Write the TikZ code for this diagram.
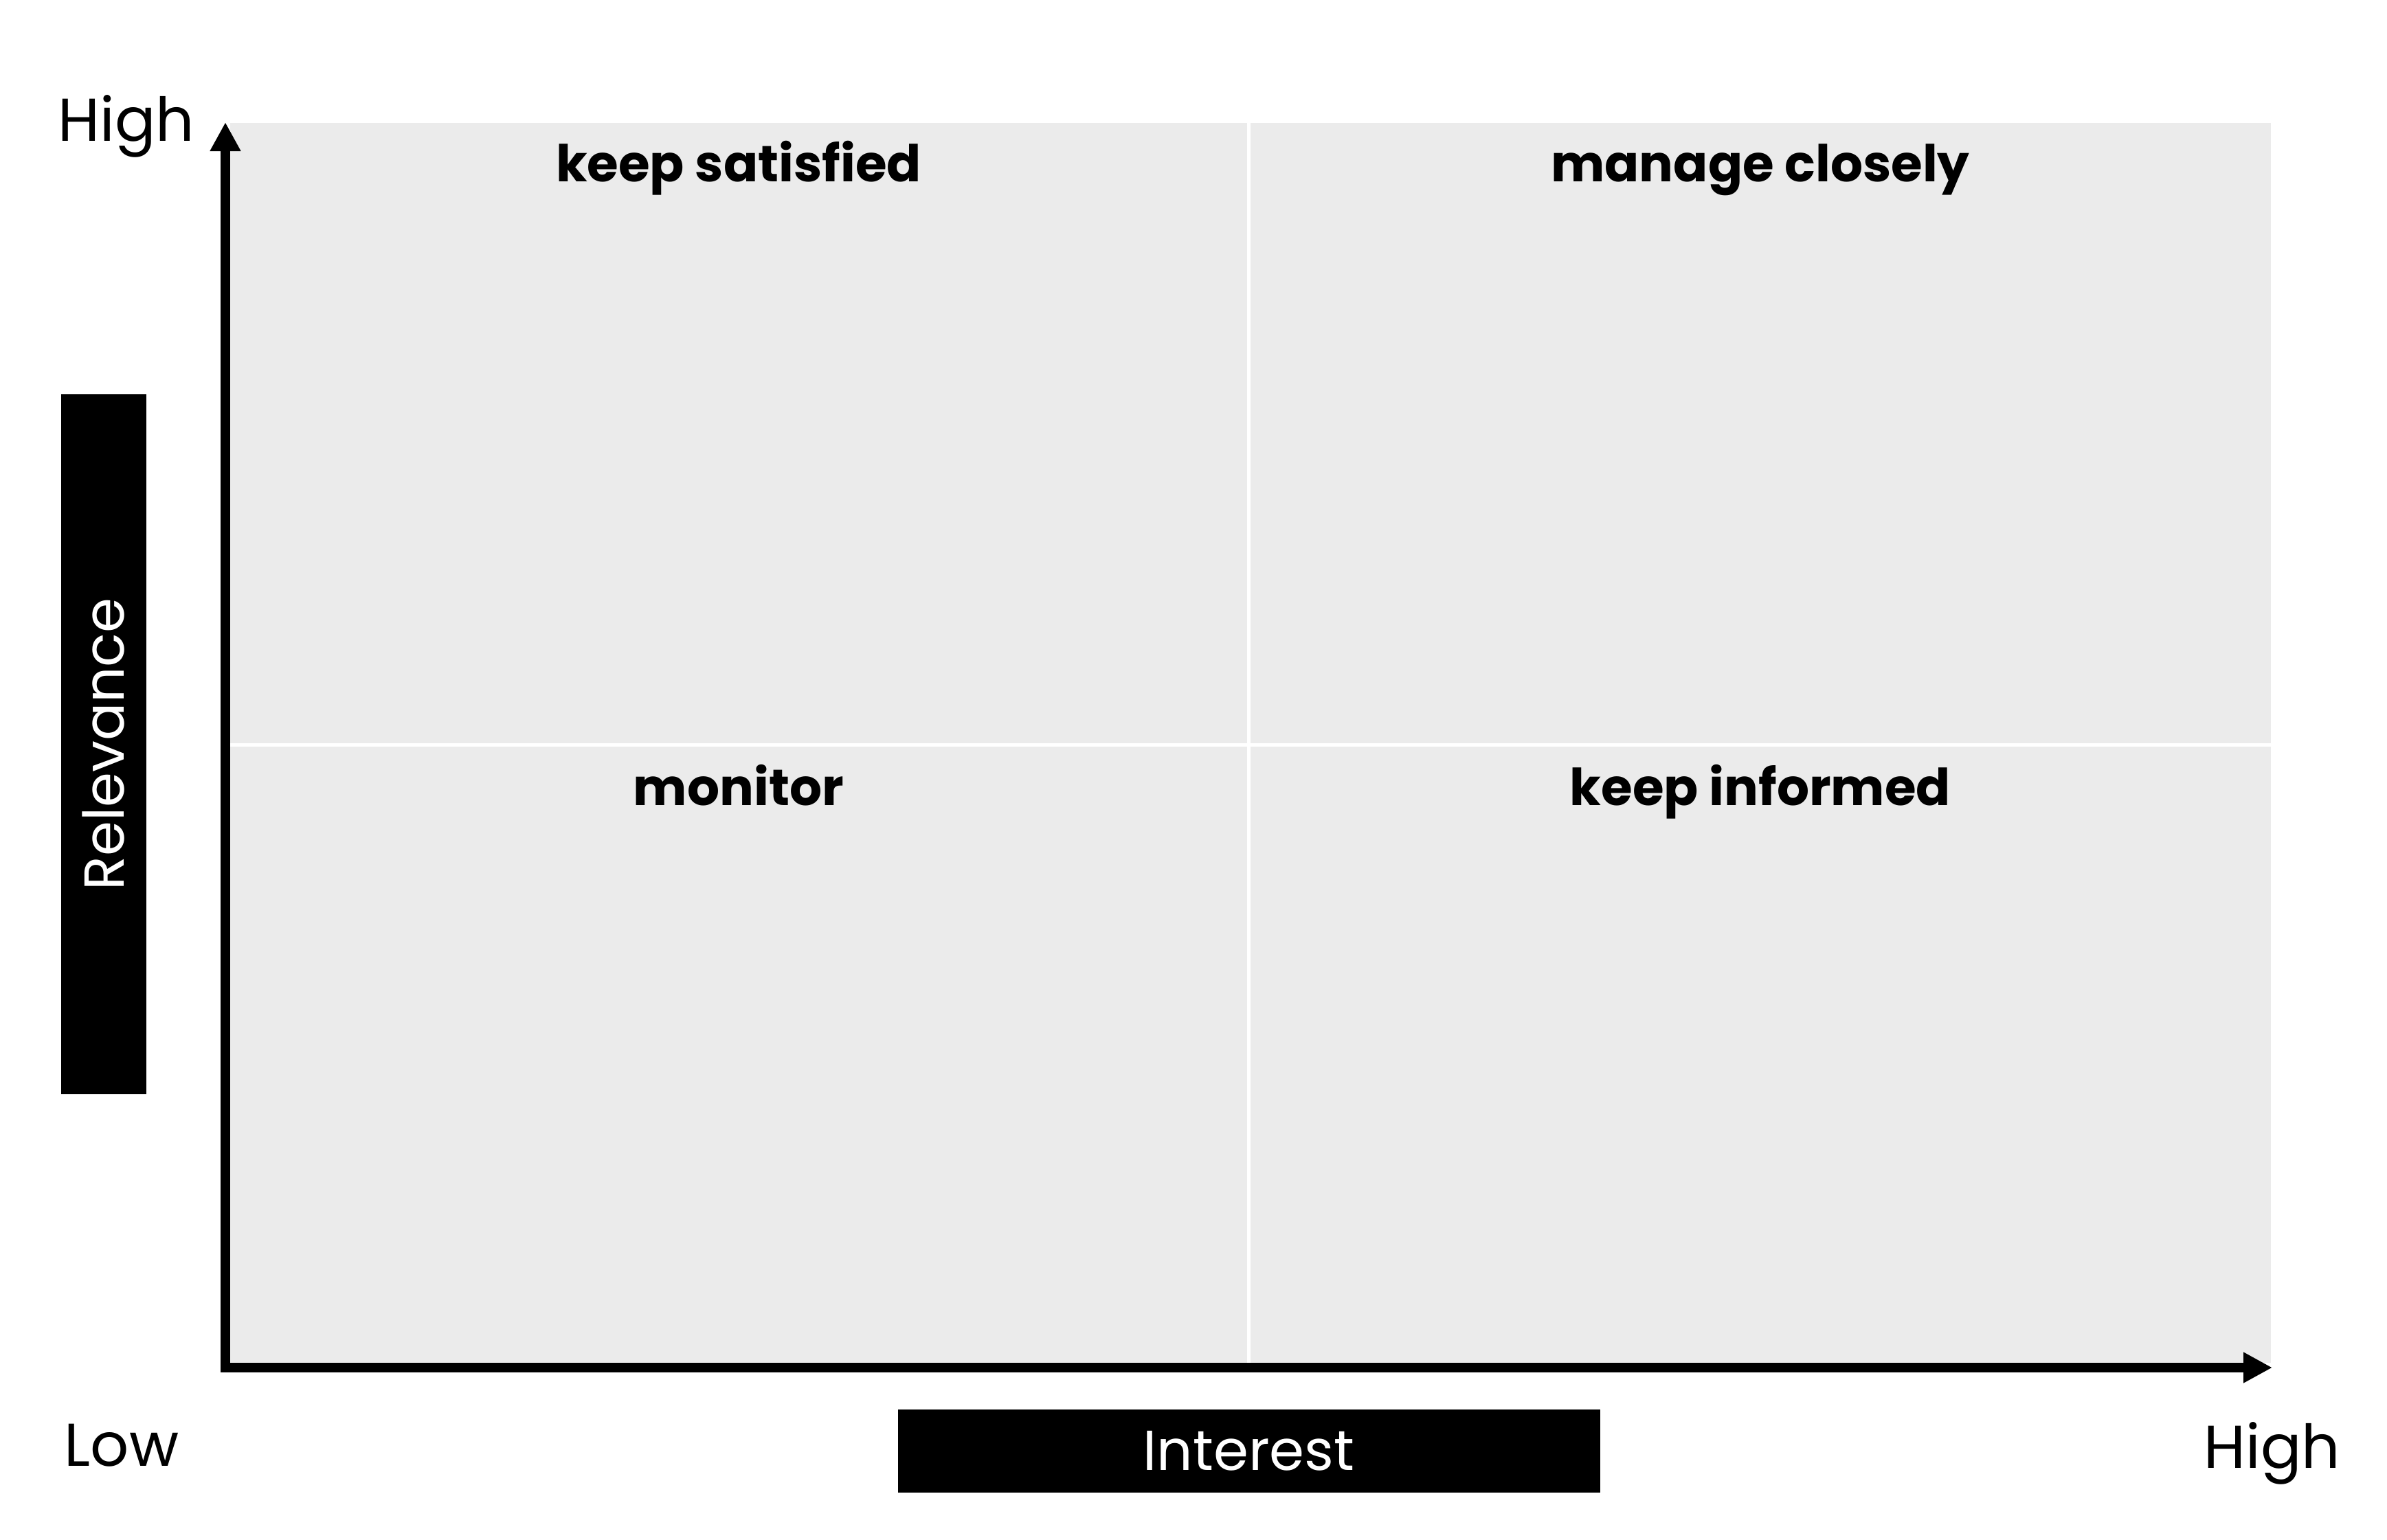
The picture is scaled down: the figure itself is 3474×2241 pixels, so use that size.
\documentclass[tikz,border=0pt]{standalone}
\usepackage{fontspec}
\setmainfont{Poppins}
\usetikzlibrary{arrows.meta}
\definecolor{quad}{HTML}{EBEBEB}
\tikzset{
  quadbox/.style={fill=quad, draw=none},
  axisline/.style={line width=14pt, -{Triangle[length=42pt,width=42pt]}},
  quadlabel/.style={font=\fontsize{74}{80}\selectfont\bfseries, anchor=base, inner sep=0pt},
  endlabel/.style={font=\fontsize{88}{92}\selectfont, anchor=base, inner sep=0pt},
  axisbox/.style={fill=black, text=white, inner sep=0pt, font=\fontsize{82}{88}\selectfont}
}
\begin{document}
\begin{tikzpicture}[x=1pt,y=-1pt]
\useasboundingbox (0,0) rectangle (3474,2241);
% quadrants
\fill[quadbox] (335,179) rectangle (1815,1082);
\fill[quadbox] (1820,179) rectangle (3305,1082);
\fill[quadbox] (335,1087) rectangle (1815,1984);
\fill[quadbox] (1820,1087) rectangle (3305,1984);
% axes
\coordinate (origin) at (328,1991);
\coordinate (ytip) at (328,178);
\coordinate (xtip) at (3307,1991);
\draw[axisline] (328,1998) -- (ytip);
\draw[axisline] (321,1991) -- (xtip);
% quadrant labels
\node[quadlabel] (ks) at (1075,264) {keep satisfied};
\node[quadlabel] (mc) at (2562,264) {manage closely};
\node[quadlabel] (mo) at (1075,1172) {monitor};
\node[quadlabel] (ki) at (2562,1172) {keep informed};
% end labels
\node[endlabel] (yhigh) at (184,205) {High};
\node[endlabel] (xlow) at (177,2134) {Low};
\node[endlabel] (xhigh) at (3307,2137) {High};
% axis title boxes
\node[axisbox, minimum width=1022pt, minimum height=121pt] (interest) at (1817.5,2112.5) {Interest};
\node[axisbox, minimum width=124pt, minimum height=1019pt] (relevance) at (151,1083.5) {};
\node[text=white, rotate=90, font=\fontsize{82}{88}\selectfont, inner sep=0pt] (reltext) at (relevance.center) {Relevance};
\end{tikzpicture}
\end{document}
